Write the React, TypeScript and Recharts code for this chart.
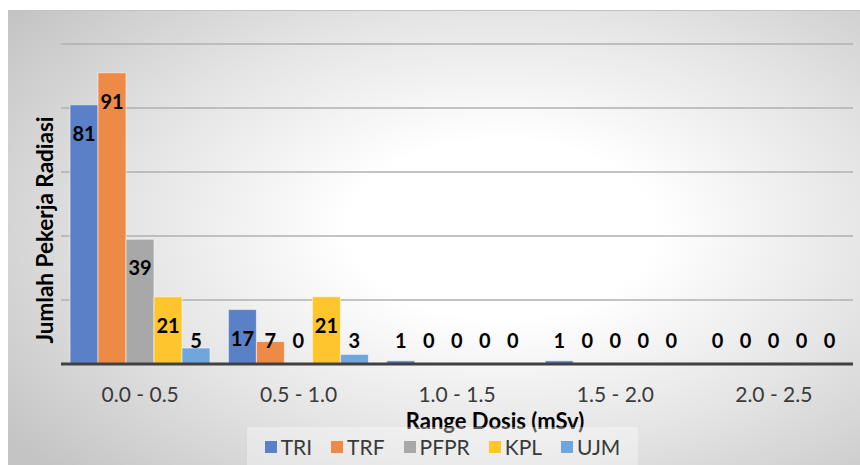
import React from "react";
import { BarChart, Bar, XAxis, YAxis, CartesianGrid, LabelList, Rectangle } from "recharts";

const categories = ["0.0 - 0.5", "0.5 - 1.0", "1.0 - 1.5", "1.5 - 2.0", "2.0 - 2.5"];
const TRI = [81, 17, 1, 1, 0];
const TRF = [91, 7, 0, 0, 0];
const PFPR = [39, 0, 0, 0, 0];
const KPL = [21, 21, 0, 0, 0];
const UJM = [5, 3, 0, 0, 0];
const yTicks = [0, 20, 40, 60, 80, 100];

const seriesNames = ["TRI", "TRF", "PFPR", "KPL", "UJM"];
const seriesColors = ["#5a80c8", "#ee8a47", "#a8a8a8", "#fec62c", "#6fa6db"];
const seriesValues = [TRI, TRF, PFPR, KPL, UJM];

const data = categories.map((c, i) => {
  const row: any = { cat: c };
  seriesNames.forEach((n, k) => (row[n] = seriesValues[k][i]));
  return row;
});

const FONT = "Lato, 'Open Sans', sans-serif";

const renderLabel = (props: any) => {
  const { x, y, width, height, value } = props;
  const base = y + height;
  const cy = Math.min(y + 28, base - 24);
  return (
    <text
      x={x + width / 2}
      y={cy}
      textAnchor="middle"
      dominantBaseline="central"
      fontFamily={FONT}
      fontWeight="bold"
      fontSize={20}
      fill="#000"
    >
      {String(value)}
    </text>
  );
};

const BarShape = (props: any) => {
  if (!props.height || props.height < 1.5) return <g />;
  return <Rectangle {...props} />;
};

const Tick = (props: any) => {
  const { x, y, payload } = props;
  return (
    <text x={x} y={y + 38} textAnchor="middle" fontFamily={FONT} fontSize={21} fill="#3a3a3a">
      {payload.value}
    </text>
  );
};

const LegendBox = () => (
  <div
    style={{
      position: "absolute",
      left: 239,
      top: 416,
      width: 391,
      height: 39,
      display: "flex",
      justifyContent: "center",
      alignItems: "center",
      gap: 19,
      fontFamily: FONT,
      fontSize: 21,
      color: "#3a3a3a",
      background: "rgba(255,255,255,0.35)",
    }}
  >
    {seriesNames.map((n, k) => (
      <div key={n} style={{ display: "flex", alignItems: "center" }}>
        <span style={{ display: "inline-block", width: 12, height: 12, background: seriesColors[k], marginRight: 4 }} />
        <span>{n}</span>
      </div>
    ))}
  </div>
);

export default function App() {
  return (
    <div
      style={{
        position: "absolute",
        left: 8,
        top: 10,
        width: 852,
        height: 455,
        background: "radial-gradient(ellipse 72% 78% at 58% 48%, #ffffff 0%, #ffffff 25%, #e4e4e4 62%, #c4c4c4 100%)",
        borderTop: "1px solid #c2c2c2",
        boxSizing: "border-box",
      }}
    >
      <BarChart
        width={852}
        height={454}
        data={data}
        margin={{ top: 33, right: 7, left: 53, bottom: 70 }}
        barCategoryGap={9}
        barGap={0}
      >
        <CartesianGrid vertical={false} stroke="#b0b0b0" strokeWidth={1.5} />
        <YAxis hide domain={[0, 100]} ticks={yTicks} />
        <XAxis
          dataKey="cat"
          height={31}
          tickLine={false}
          tickSize={0}
          tickMargin={0}
          axisLine={{ stroke: "#404040", strokeWidth: 3 }}
          tick={<Tick />}
          interval={0}
        />
        {seriesNames.map((n, k) => (
          <Bar
            key={n}
            dataKey={n}
            fill={seriesColors[k]}
            stroke="rgba(255,255,255,0.55)"
            strokeWidth={1}
            minPointSize={1}
            shape={<BarShape />}
            isAnimationActive={false}
          >
            <LabelList dataKey={n} content={renderLabel} />
          </Bar>
        ))}
        <text
          x={487}
          y={418}
          textAnchor="middle"
          fontFamily={FONT}
          fontWeight="bold"
          fontSize={22}
          fill="#000"
        >
          Range Dosis (mSv)
        </text>
        <text
          x={36}
          y={219}
          transform="rotate(-90 36 219)"
          textAnchor="middle"
          dominantBaseline="central"
          fontFamily={FONT}
          fontWeight="bold"
          fontSize={22.5}
          fill="#000"
        >
          Jumlah Pekerja Radiasi
        </text>
      </BarChart>
      <LegendBox />
    </div>
  );
}
